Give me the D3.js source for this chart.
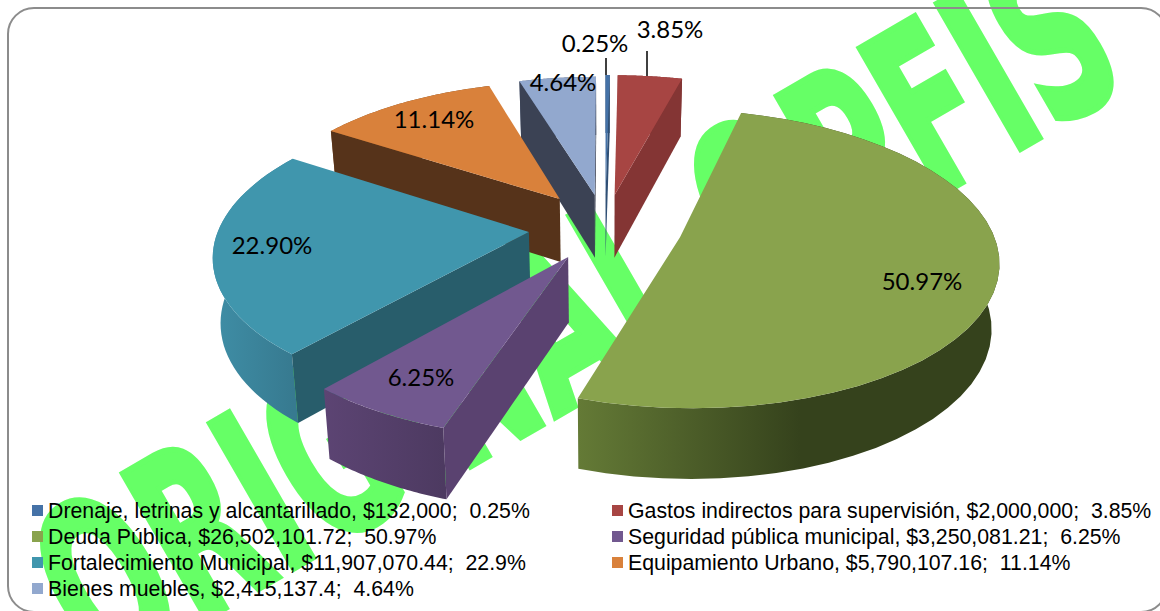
<!DOCTYPE html>
<html><head><meta charset="utf-8">
<script src="https://cdnjs.cloudflare.com/ajax/libs/d3/7.8.5/d3.min.js"></script>
<style>html,body{margin:0;padding:0;background:#fff;overflow:hidden}svg{display:block}</style></head>
<body><svg id="c" width="1160" height="611"></svg>
<script>
const categories = ["Drenaje, letrinas y alcantarillado","Gastos indirectos para supervisión","Deuda Pública","Seguridad pública municipal","Fortalecimiento Municipal","Equipamiento Urbano","Bienes muebles"];
const amounts = [132000,2000000,26502101.72,3250081.21,11907070.44,5790107.16,2415137.4];
const amountLabels = ["$132,000","$2,000,000","$26,502,101.72","$3,250,081.21","$11,907,070.44","$5,790,107.16","$2,415,137.4"];
const legendPercents = ["0.25%","3.85%","50.97%","6.25%","22.9%","11.14%","4.64%"];
const dataLabels = ["0.25%","3.85%","50.97%","6.25%","22.90%","11.14%","4.64%"];
const topColors = ["#4572a7","#a74543","#89a34d","#71588f","#4096ad","#d9813b","#92a8ce"];
const sideColors = ["#2f4f75","#843534","#5f7233","#5a4270","#285d6b","#56331a","#3b4254"];
const wallStops = [["#2f4f75","#2f4f75"],["#8a3635","#7a302f"],["#647a36","#35421c"],["#5c4473","#4d3a61"],["#3f8ea6","#377a90"],["#8a5226","#6b3f1c"],["#4a5a78","#3b4254"]];
const drawOrder = [1,0,6,5,2,4,3];
const explodes = [0.23,0.23,0.245,0.23,0.242,0.246,0.23];
const radii = [1,1,0.985,1,0.98,0.97,0.985];
const watermark = "ORIGINAL OPFIS";

const svg = d3.select("#c");
const defs = svg.append("defs");

// Watermark
svg.append("text").attr("transform","translate(99,681) rotate(-30) scale(0.568,1)")
  .attr("font-family","DejaVu Sans").attr("font-weight","bold").attr("font-size",230)
  .attr("fill","#66ff66").attr("stroke","#66ff66").attr("stroke-width",6).text(watermark);

// Frame
svg.append("rect").attr("x",8).attr("y",8).attr("width",1159).attr("height",604)
  .attr("rx",26).attr("fill","none").attr("stroke","#8c8c8c").attr("stroke-width",2);

// Projection of the exploded pie
const cx=605, cy=227, Rx=316, Ry=145.6, persp=0.145, depth=64;
const pie = d3.pie().sort(null).value(d=>d).startAngle(0).endAngle(2*Math.PI);
const arcs = pie(amounts);
function project(X,Y){ const w=1+persp*Y; return {x:cx+Rx*X/w, y:cy-Ry*Y/w, w}; }
function lower(p){ return {x:cx+(p.x-cx)*0.98, y:p.y+depth*Math.pow(p.w,-0.6)}; }
const line = d3.line().x(d=>d.x).y(d=>d.y);
const area = pts => d3.polygonArea(pts.map(p=>[p.x,p.y]));

const pieG = svg.append("g");
drawOrder.forEach(i=>{
  const a = arcs[i], mid=(a.startAngle+a.endAngle)/2;
  const ox=explodes[i]*Math.sin(mid), oy=explodes[i]*Math.cos(mid);
  const at=(t,r)=>project(ox+r*Math.sin(t), oy+r*Math.cos(t));
  const ts=d3.range(0,41).map(k=>a.startAngle+(a.endAngle-a.startAngle)*k/40);
  const rim=ts.map(t=>at(t,radii[i])), apex=at(0,0);
  const g=pieG.append("g");
  const grad=defs.append("linearGradient").attr("id","w"+i).attr("gradientUnits","userSpaceOnUse");
  const xs=rim.map(p=>p.x);
  const x0=i===2?579:d3.min(xs), x1=i===2?800:d3.max(xs);
  grad.attr("x1",x0).attr("x2",x1).attr("y1",0).attr("y2",0);
  grad.append("stop").attr("offset",0).attr("stop-color",wallStops[i][0]);
  grad.append("stop").attr("offset",1).attr("stop-color",wallStops[i][1]);
  g.append("path").attr("d",line(rim.concat(rim.map(lower).reverse()))+"Z").attr("fill",`url(#w${i})`);
  [[rim[0],apex],[apex,rim[rim.length-1]]].forEach(([p,q])=>{
    const poly=[p,q,lower(q),lower(p)];
    if(area(poly)<0) g.append("path").attr("d",line(poly)+"Z").attr("fill",sideColors[i]);
  });
  g.append("path").attr("d",line([apex].concat(rim))+"Z").attr("fill",topColors[i]);
});

// Data labels
const labelPos=[[595,44],[670,30],[922,282],[421,378],[272,246],[434,120],[563,83]];
const labelG=svg.append("g");
labelG.selectAll("text").data(dataLabels).join("text")
  .attr("x",(d,i)=>labelPos[i][0]).attr("y",(d,i)=>labelPos[i][1]+8)
  .attr("text-anchor","middle").attr("font-family","Lato").attr("font-size",24).attr("fill","#000").text(d=>d);
labelG.selectAll("line").data([[606,58,606,75],[647,51,647,76]]).join("line")
  .attr("x1",d=>d[0]).attr("y1",d=>d[1]).attr("x2",d=>d[2]).attr("y2",d=>d[3]).attr("stroke","#000").attr("stroke-width",1.5);

// Legend
const legendX=[32,612], legendY=d3.scalePoint().domain([0,1,2,3]).range([511,589]);
const lg=svg.append("g").selectAll("g").data(categories).join("g")
  .attr("transform",(d,i)=>`translate(${legendX[i%2]},${legendY(Math.floor(i/2))})`);
lg.append("rect").attr("x",0).attr("y",-6).attr("width",11).attr("height",11).attr("fill",(d,i)=>topColors[i]);
lg.append("text").attr("x",16).attr("y",7).attr("font-family","Liberation Sans").attr("font-size",21.3).attr("fill","#000")
  .style("white-space","pre")
  .text((d,i)=>`${d}, ${amountLabels[i]};  ${legendPercents[i]}`);
</script></body></html>
